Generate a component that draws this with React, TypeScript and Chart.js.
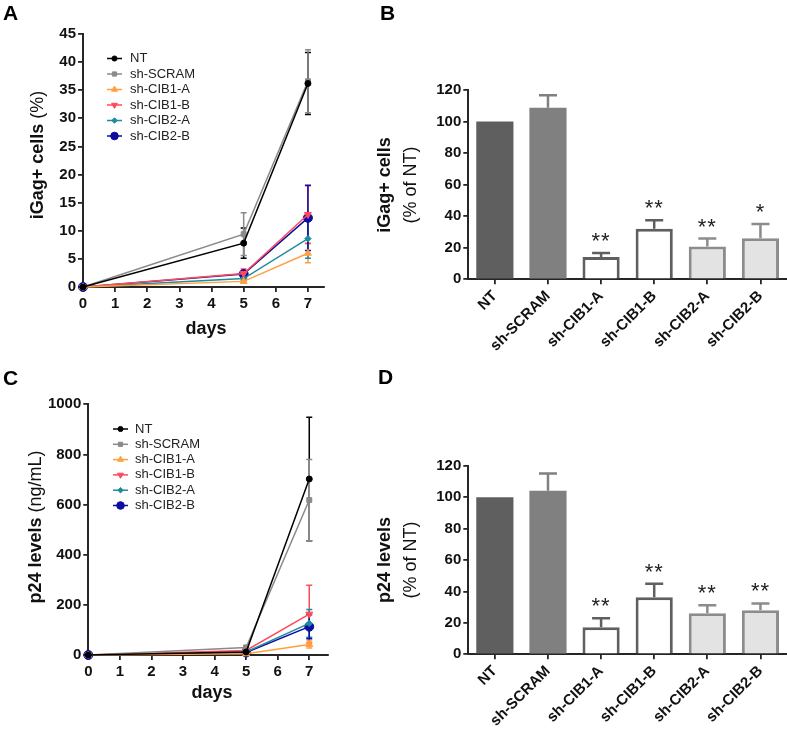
import React, { useEffect, useRef } from 'react';
import { Chart, registerables } from 'chart.js';
import { drawPoint } from 'chart.js/helpers';

Chart.register(...registerables);

const FONT = '"Liberation Sans", Arial, Helvetica, sans-serif';
const AXIS = '#262626';
const TEXT = '#111111';

// ---------- Panels A & C : time course ----------
const days = [0, 5, 7];
const dayTicks = [0, 1, 2, 3, 4, 5, 6, 7];
const seriesNames = ['NT', 'sh-SCRAM', 'sh-CIB1-A', 'sh-CIB1-B', 'sh-CIB2-A', 'sh-CIB2-B'];

const gagNT = [0, 7.8, 36.2];
const gagSCRAM = [0, 9.4, 36.6];
const gagCIB1A = [0, 1.0, 6.0];
const gagCIB1B = [0, 2.4, 12.9];
const gagCIB2A = [0, 1.5, 8.6];
const gagCIB2B = [0, 2.3, 12.3];
const gagNTErr = [0, 2.7, 5.5];
const gagSCRAMErr = [0, 3.8, 5.6];
const gagCIB1AErr = [0, 0.3, 1.7];
const gagCIB1BErr = [0, 0.8, 5.1];
const gagCIB2AErr = [0, 0.4, 3.5];
const gagCIB2BErr = [0, 0.6, 5.8];
const gagTicks = [0, 5, 10, 15, 20, 25, 30, 35, 40, 45];

const p24NT = [0, 12, 702];
const p24SCRAM = [0, 30, 618];
const p24CIB1A = [0, 5, 42];
const p24CIB1B = [0, 18, 163];
const p24CIB2A = [0, 12, 126];
const p24CIB2B = [0, 10, 113];
const p24NTErr = [0, 5, 246];
const p24SCRAMErr = [0, 8, 162];
const p24CIB1AErr = [0, 2, 14];
const p24CIB1BErr = [0, 4, 115];
const p24CIB2AErr = [0, 3, 55];
const p24CIB2BErr = [0, 3, 48];
const p24Ticks = [0, 200, 400, 600, 800, 1000];

const seriesColors = ['#000000', '#8a8a8a', '#ffa040', '#ff4a5a', '#1e8c9e', '#0c0ca0'];
const seriesStyles = ['circle', 'rect', 'triangle', 'triangle', 'rectRot', 'circle'];
const seriesRotation = [0, 0, 0, 180, 0, 0];
const seriesRadius = [3, 3.5, 4, 4, 3.2, 4.5];

// ---------- Panels B & D : % of NT ----------
const groups = ['NT', 'sh-SCRAM', 'sh-CIB1-A', 'sh-CIB1-B', 'sh-CIB2-A', 'sh-CIB2-B'];
const gagPct = [100, 108.7, 14.2, 32.1, 20.8, 26.0];
const gagPctErr = [0, 7.9, 2.5, 5.4, 5.0, 9.1];
const gagStars = ['', '', '**', '**', '**', '*'];
const p24Pct = [100, 104.1, 17.2, 36.3, 26.1, 28.0];
const p24PctErr = [0, 11.0, 5.7, 8.6, 5.1, 4.4];
const p24Stars = ['', '', '**', '**', '**', '**'];
const pctTicks = [0, 20, 40, 60, 80, 100, 120];

const barFill = ['#5f5f5f', '#808080', '#ffffff', '#ffffff', '#e3e3e3', '#e3e3e3'];
const barEdge = ['#5f5f5f', '#808080', '#5f5f5f', '#5f5f5f', '#8c8c8c', '#8c8c8c'];
const barEdgeW = [0, 0, 3, 3, 3, 3];

type Area = { l: number; t: number; r: number; b: number };

function rotatedMixed(ctx: CanvasRenderingContext2D, x: number, y: number, parts: [string, string][]) {
  ctx.save();
  let total = 0;
  const widths = parts.map(([f, t]) => {
    ctx.font = f;
    const w = ctx.measureText(t).width;
    total += w;
    return w;
  });
  ctx.translate(x, y);
  ctx.rotate(-Math.PI / 2);
  ctx.textBaseline = 'alphabetic';
  ctx.textAlign = 'left';
  ctx.fillStyle = TEXT;
  let cx = -total / 2;
  parts.forEach(([f, t], i) => {
    ctx.font = f;
    ctx.fillText(t, cx, 0);
    cx += widths[i];
  });
  ctx.restore();
}

function drawLetter(ctx: CanvasRenderingContext2D, letter: string, x: number, y: number) {
  ctx.save();
  ctx.font = `bold 21px ${FONT}`;
  ctx.fillStyle = '#000';
  ctx.textBaseline = 'alphabetic';
  ctx.textAlign = 'left';
  ctx.fillText(letter, x, y);
  ctx.restore();
}

const bold = (n: number) => `bold ${n}px ${FONT}`;
const reg = (n: number) => `${n}px ${FONT}`;

function axisCommon() {
  return {
    grid: { display: true, drawOnChartArea: false, drawTicks: true, tickLength: 5, color: AXIS, lineWidth: 1.8 },
    border: { display: true, color: AXIS, width: 2 },
  };
}

type LineSpec = {
  W: number; H: number; area: Area; xMax: number;
  values: number[][]; errors: number[][]; yTicks: number[];
  titleBold: string; titleRest: string; titleX: number; titleY: number;
  daysX: number; daysY: number;
  letter: string; letterX: number; letterY: number;
  legX1: number; legX2: number; legTextX: number; legY0: number; legDy: number;
};

function lineConfig(s: LineSpec): any {
  const plugin = {
    id: 'lineDecor',
    beforeDatasetsDraw(chart: any) {
      const ctx = chart.ctx as CanvasRenderingContext2D;
      const xs = chart.scales.x;
      const ys = chart.scales.y;
      ctx.save();
      s.values.forEach((vals, k) => {
        ctx.strokeStyle = seriesColors[k];
        ctx.lineWidth = 1.5;
        vals.forEach((v, i) => {
          const e = s.errors[k][i];
          if (!e) return;
          const x = xs.getPixelForValue(days[i]);
          const y1 = ys.getPixelForValue(v + e);
          const y2 = ys.getPixelForValue(Math.max(v - e, 0));
          ctx.beginPath();
          ctx.moveTo(x, y1); ctx.lineTo(x, y2);
          ctx.moveTo(x - 3, y1); ctx.lineTo(x + 3, y1);
          ctx.moveTo(x - 3, y2); ctx.lineTo(x + 3, y2);
          ctx.stroke();
        });
      });
      ctx.restore();
    },
    afterDraw(chart: any) {
      const ctx = chart.ctx as CanvasRenderingContext2D;
      ctx.save();
      seriesNames.forEach((name, k) => {
        const y = s.legY0 + k * s.legDy;
        ctx.strokeStyle = seriesColors[k];
        ctx.fillStyle = seriesColors[k];
        ctx.lineWidth = 1.5;
        ctx.beginPath();
        ctx.moveTo(s.legX1, y); ctx.lineTo(s.legX2, y);
        ctx.stroke();
        ctx.lineWidth = 1;
        drawPoint(ctx, { pointStyle: seriesStyles[k], radius: seriesRadius[k] * 0.85, rotation: seriesRotation[k], borderWidth: 1 } as any, (s.legX1 + s.legX2) / 2, y);
        ctx.font = reg(13);
        ctx.fillStyle = '#222';
        ctx.textBaseline = 'middle';
        ctx.textAlign = 'left';
        ctx.fillText(name, s.legTextX, y);
      });
      ctx.restore();
      rotatedMixed(ctx, s.titleX, s.titleY, [[bold(18), s.titleBold], [reg(18), s.titleRest]]);
      ctx.save();
      ctx.font = bold(18);
      ctx.fillStyle = TEXT;
      ctx.textAlign = 'center';
      ctx.textBaseline = 'alphabetic';
      ctx.fillText('days', s.daysX, s.daysY);
      ctx.restore();
      drawLetter(ctx, s.letter, s.letterX, s.letterY);
    },
  };
  const yMax = s.yTicks[s.yTicks.length - 1];
  return {
    type: 'line',
    data: {
      datasets: seriesNames.map((name, k) => ({
        label: name,
        data: days.map((d, i) => ({ x: d, y: s.values[k][i] })),
        borderColor: seriesColors[k],
        backgroundColor: seriesColors[k],
        borderWidth: 1.5,
        pointStyle: seriesStyles[k],
        pointRadius: seriesRadius[k],
        pointRotation: seriesRotation[k],
        pointBackgroundColor: seriesColors[k],
        pointBorderColor: seriesColors[k],
        pointBorderWidth: 1,
        tension: 0,
        clip: false,
      })),
    },
    options: {
      animation: false,
      responsive: false,
      devicePixelRatio: 1,
      layout: { padding: { left: 0, top: s.area.t, right: s.W - s.area.r, bottom: 0 } },
      plugins: { legend: { display: false }, title: { display: false }, tooltip: { enabled: false } },
      scales: {
        x: {
          type: 'linear', min: 0, max: s.xMax,
          afterBuildTicks: (sc: any) => { sc.ticks = dayTicks.map((v) => ({ value: v })); },
          afterFit: (sc: any) => { sc.height = s.H - s.area.b; },
          ...axisCommon(),
          ticks: { font: { family: FONT, size: 15, weight: 'bold' }, color: TEXT, padding: 3, maxRotation: 0, autoSkip: false, callback: (v: any) => String(v) },
        },
        y: {
          type: 'linear', min: 0, max: yMax,
          afterBuildTicks: (sc: any) => { sc.ticks = s.yTicks.map((v) => ({ value: v })); },
          afterFit: (sc: any) => { sc.width = s.area.l; },
          ...axisCommon(),
          ticks: { font: { family: FONT, size: 15, weight: 'bold' }, color: TEXT, padding: 2, autoSkip: false, callback: (v: any) => String(v) },
        },
      },
    },
    plugins: [plugin],
  };
}

type BarSpec = {
  W: number; H: number; area: Area;
  values: number[]; errors: number[]; stars: string[];
  titleBold: string; titleRest: string; title1X: number; title2X: number; titleY: number;
  letter: string; letterX: number; letterY: number;
};

function barConfig(s: BarSpec): any {
  const plugin = {
    id: 'barDecor',
    afterDatasetsDraw(chart: any) {
      const ctx = chart.ctx as CanvasRenderingContext2D;
      const ys = chart.scales.y;
      const meta = chart.getDatasetMeta(0);
      ctx.save();
      s.values.forEach((v, i) => {
        const e = s.errors[i];
        const x = meta.data[i].x;
        const yTop = ys.getPixelForValue(v + e);
        if (e) {
          ctx.strokeStyle = barEdge[i];
          ctx.lineWidth = 2.5;
          ctx.beginPath();
          ctx.moveTo(x, ys.getPixelForValue(v)); ctx.lineTo(x, yTop);
          ctx.moveTo(x - 9, yTop); ctx.lineTo(x + 9, yTop);
          ctx.stroke();
        }
        if (s.stars[i]) {
          ctx.font = reg(22);
          ctx.fillStyle = '#222';
          ctx.textAlign = 'center';
          ctx.textBaseline = 'alphabetic';
          (ctx as any).letterSpacing = '1px';
          ctx.fillText(s.stars[i], x, yTop - 5);
          (ctx as any).letterSpacing = '0px';
        }
      });
      ctx.restore();
    },
    afterDraw(chart: any) {
      const ctx = chart.ctx as CanvasRenderingContext2D;
      rotatedMixed(ctx, s.title1X, s.titleY, [[bold(18), s.titleBold]]);
      rotatedMixed(ctx, s.title2X, s.titleY, [[reg(18), s.titleRest]]);
      drawLetter(ctx, s.letter, s.letterX, s.letterY);
    },
  };
  return {
    type: 'bar',
    data: {
      labels: groups,
      datasets: [{
        data: s.values,
        backgroundColor: barFill,
        borderColor: barEdge,
        borderWidth: barEdgeW,
        barPercentage: 0.7,
        categoryPercentage: 1,
      }],
    },
    options: {
      animation: false,
      responsive: false,
      devicePixelRatio: 1,
      layout: { padding: { left: 0, top: s.area.t, right: s.W - s.area.r, bottom: 0 } },
      plugins: { legend: { display: false }, title: { display: false }, tooltip: { enabled: false } },
      scales: {
        x: {
          type: 'category', offset: true,
          afterFit: (sc: any) => { sc.height = s.H - s.area.b; },
          ...axisCommon(),
          grid: { display: true, offset: false, drawOnChartArea: false, drawTicks: true, tickLength: 5, color: AXIS, lineWidth: 1.8 },
          ticks: { font: { family: FONT, size: 15, weight: 'bold' }, color: TEXT, padding: 3, minRotation: 45, maxRotation: 45, autoSkip: false },
        },
        y: {
          type: 'linear', min: 0, max: pctTicks[pctTicks.length - 1],
          afterBuildTicks: (sc: any) => { sc.ticks = pctTicks.map((v) => ({ value: v })); },
          afterFit: (sc: any) => { sc.width = s.area.l; },
          ...axisCommon(),
          ticks: { font: { family: FONT, size: 15, weight: 'bold' }, color: TEXT, padding: 2, autoSkip: false, callback: (v: any) => String(v) },
        },
      },
    },
    plugins: [plugin],
  };
}

function Panel({ left, top, width, height, config }: { left: number; top: number; width: number; height: number; config: () => any }) {
  const ref = useRef<HTMLCanvasElement>(null);
  useEffect(() => {
    const chart = new Chart(ref.current as HTMLCanvasElement, config());
    return () => chart.destroy();
  }, []);
  return (
    <canvas ref={ref} width={width} height={height}
      style={{ position: 'absolute', left, top, width, height, display: 'block' }} />
  );
}

export default function App() {
  const LW = 370, RW = 417, PH = 366;
  return (
    <div style={{ position: 'absolute', left: 0, top: 0, width: 787, height: 732, background: '#fff', overflow: 'hidden' }}>
      <Panel left={0} top={0} width={LW} height={PH} config={() => lineConfig({
        W: LW, H: PH, area: { l: 83, t: 34, r: 324, b: 287 }, xMax: 7.5,
        values: [gagNT, gagSCRAM, gagCIB1A, gagCIB1B, gagCIB2A, gagCIB2B],
        errors: [gagNTErr, gagSCRAMErr, gagCIB1AErr, gagCIB1BErr, gagCIB2AErr, gagCIB2BErr],
        yTicks: gagTicks,
        titleBold: 'iGag+ cells', titleRest: ' (%)', titleX: 43, titleY: 155,
        daysX: 206, daysY: 334,
        letter: 'A', letterX: 3, letterY: 20,
        legX1: 107, legX2: 122, legTextX: 130, legY0: 58.5, legDy: 15.5,
      })} />
      <Panel left={LW} top={0} width={RW} height={PH} config={() => barConfig({
        W: RW, H: PH, area: { l: 98.3, t: 90, r: RW, b: 279.3 },
        values: gagPct, errors: gagPctErr, stars: gagStars,
        titleBold: 'iGag+ cells', titleRest: '(% of NT)', title1X: 390 - LW, title2X: 416 - LW, titleY: 185,
        letter: 'B', letterX: 380 - LW, letterY: 20,
      })} />
      <Panel left={0} top={PH} width={LW} height={PH} config={() => lineConfig({
        W: LW, H: PH, area: { l: 88.3, t: 38.3, r: 328.2, b: 289 }, xMax: 7.6,
        values: [p24NT, p24SCRAM, p24CIB1A, p24CIB1B, p24CIB2A, p24CIB2B],
        errors: [p24NTErr, p24SCRAMErr, p24CIB1AErr, p24CIB1BErr, p24CIB2AErr, p24CIB2BErr],
        yTicks: p24Ticks,
        titleBold: 'p24 levels', titleRest: ' (ng/mL)', titleX: 41, titleY: 527 - PH,
        daysX: 212, daysY: 698 - PH,
        letter: 'C', letterX: 3, letterY: 385 - PH,
        legX1: 113, legX2: 128, legTextX: 135, legY0: 429 - PH, legDy: 15.3,
      })} />
      <Panel left={LW} top={PH} width={RW} height={PH} config={() => barConfig({
        W: RW, H: PH, area: { l: 98.3, t: 99.7, r: RW, b: 288.3 },
        values: p24Pct, errors: p24PctErr, stars: p24Stars,
        titleBold: 'p24 levels', titleRest: '(% of NT)', title1X: 390 - LW, title2X: 416 - LW, titleY: 560 - PH,
        letter: 'D', letterX: 378 - LW, letterY: 384 - PH,
      })} />
    </div>
  );
}
